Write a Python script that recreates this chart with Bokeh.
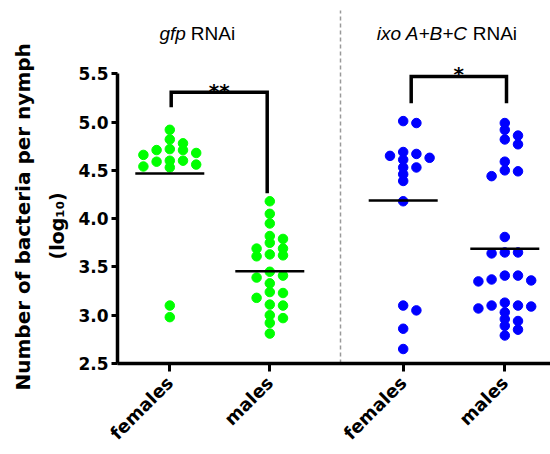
import numpy as np
from bokeh.plotting import figure
from bokeh.models import Range1d, FixedTicker, Label, Title
from bokeh.embed import file_html
from bokeh.resources import INLINE

# ---------------- data ----------------
categories = ["females", "males", "females", "males"]
group_titles_italic = ["gfp", "ixo A+B+C"]
group_titles_plain = ["RNAi", "RNAi"]
significance = ["**", "*"]
y_title_lines = ["Number of bacteria per nymph", "(log\u2081\u2080)"]

gfp_females = [4.92, 4.82, 4.78, 4.71, 4.68, 4.71, 4.72, 4.66, 4.60, 4.60,
               4.54, 4.53, 4.56, 4.59, 3.10, 2.98]
gfp_males = [4.18, 4.05, 3.95, 3.82, 3.79, 3.75, 3.69, 3.63, 3.61, 3.62,
             3.69, 3.45, 3.39, 3.41, 3.33, 3.23, 3.24, 3.18, 3.11, 3.10,
             3.00, 2.97, 2.92, 2.81]
ixo_females = [5.01, 4.99, 4.63, 4.67, 4.69, 4.61, 4.65, 4.53, 4.53, 4.46,
               4.39, 4.18, 3.10, 3.05, 2.86, 2.65]
ixo_males = [4.99, 4.92, 4.86, 4.82, 4.77, 4.59, 4.50, 4.49, 4.44, 3.81,
             3.65, 3.64, 3.65, 3.41, 3.36, 3.35, 3.37, 3.41, 3.07, 3.10,
             3.09, 3.10, 3.13, 3.03, 2.96, 2.94, 2.89, 2.85, 2.79]

y_ticks = [2.5, 3.0, 3.5, 4.0, 4.5, 5.0, 5.5]
y_tick_labels = ["2.5", "3.0", "3.5", "4.0", "4.5", "5.0", "5.5"]

# ---------------- layout ----------------
W, H = 550, 454
LEFT, BOTTOM = 117, 91
PX_X = 100.0                      # pixels per x unit
Y0, Y_TOP_TICK = 2.5, 5.5
FRAME_H = H - BOTTOM
PX_Y = 96.57                      # pixels per y unit
Y1 = Y0 + FRAME_H / PX_Y
positions = [1.0, 2.0, 3.334, 4.35]
X0 = positions[0] - 52.3 / PX_X
X1 = X0 + (W - LEFT) / PX_X

series = [gfp_females, gfp_males, ixo_females, ixo_males]
colors = ["#00FF00", "#00FF00", "#0000FF", "#0000FF"]


def swarm(vals, slot_px=13.2, min_dy_px=6.5):
    vals = np.asarray(vals, dtype=float)
    order = np.argsort(-vals, kind="stable")
    placed = []
    offs = np.zeros(len(vals))
    cand = [0, 1, -1, 2, -2, 3, -3, 4, -4]
    for i in order:
        v = vals[i]
        chosen = cand[-1]
        for s in cand:
            if all(not (ps == s and abs(pv - v) * PX_Y < min_dy_px) for ps, pv in placed):
                chosen = s
                break
        placed.append((chosen, v))
        offs[i] = chosen * slot_px / PX_X
    return offs


p = figure(width=W, height=H, output_backend="svg", toolbar_location=None,
           x_range=Range1d(X0, X1), y_range=Range1d(Y0, Y1),
           min_border_left=LEFT, min_border_right=0, min_border_top=0,
           min_border_bottom=BOTTOM)
p.outline_line_color = None
p.grid.visible = False
p.background_fill_color = "white"
p.border_fill_color = "white"

# axes
p.yaxis.bounds = (Y0, Y_TOP_TICK)
p.yaxis.ticker = FixedTicker(ticks=y_ticks)
p.yaxis.major_label_overrides = {t: l for t, l in zip(y_ticks, y_tick_labels)}
p.xaxis.ticker = FixedTicker(ticks=positions)
p.xaxis.major_label_overrides = {t: l for t, l in zip(positions, categories)}
p.xaxis.major_label_orientation = np.pi / 4
for ax in (p.xaxis, p.yaxis):
    ax.axis_line_width = 3.5
    ax.axis_line_color = "black"
    ax.major_tick_line_width = 3
    ax.major_tick_line_color = "black"
    ax.major_tick_in = 0
    ax.minor_tick_line_color = None
    ax.major_label_text_font = "DejaVu Sans"
    ax.major_label_text_font_style = "bold"
    ax.major_label_text_color = "black"
p.yaxis.major_label_text_font_size = "17px"
p.xaxis.major_label_text_font_size = "18px"
p.yaxis.major_tick_out = 6
p.yaxis.major_label_standoff = 3
p.xaxis.major_tick_out = 8
p.xaxis.major_label_standoff = 8

# y-axis title: two stacked side titles
p.add_layout(Title(text=y_title_lines[1], align="left", offset=104,
                   text_font="DejaVu Sans", text_font_style="bold",
                   text_font_size="19px", text_color="black", standoff=16), "left")
p.add_layout(Title(text=y_title_lines[0], align="left", offset=-27,
                   text_font="DejaVu Sans", text_font_style="bold",
                   text_font_size="20px", text_color="black", standoff=2), "left")

# points and means
for pos, vals, col in zip(positions, series, colors):
    offs = swarm(vals)
    p.scatter(x=pos + offs, y=vals, size=9.5, fill_color=col, line_color=col,
              line_width=1)
    m = float(np.mean(vals))
    p.segment(x0=[pos - 0.345], y0=[m], x1=[pos + 0.345], y1=[m],
              line_color="black", line_width=2.5)

# divider
p.segment(x0=[2.707], y0=[Y0], x1=[2.707], y1=[6.155], line_color="#999999",
          line_width=1.5, line_dash="4 3")

# brackets
brackets = [
    ([1.014, 1.014, 1.974, 1.974], [5.154, 5.309, 5.309, 4.264]),
    ([3.414, 3.414, 4.367, 4.367], [5.196, 5.472, 5.472, 5.196]),
]
star_y = [5.322, 5.500]
for (bx, by), s, sy in zip(brackets, significance, star_y):
    p.line(bx, by, line_color="black", line_width=3.5, line_join="miter")
    p.text(x=[(bx[0] + bx[-1]) / 2], y=[sy], text=[s], text_align="center",
           text_baseline="alphabetic", text_font_size="20px",
           text_font={"value": "DejaVu Sans"},
           text_font_style="bold", text_color="black")

# group titles
title_split = [1.185, 4.004]
for xs, it, pl in zip(title_split, group_titles_italic, group_titles_plain):
    p.add_layout(Label(x=xs, y=5.917, text=it, text_align="right",
                       text_baseline="alphabetic", x_offset=-2.5,
                       text_font="Liberation Sans", text_font_style="italic",
                       text_font_size="19px", text_color="black"))
    p.add_layout(Label(x=xs, y=5.917, text=pl, text_align="left",
                       text_baseline="alphabetic", x_offset=2.5,
                       text_font="Liberation Sans", text_font_size="19px",
                       text_color="black"))

open("out.html", "w").write(file_html(p, INLINE))
